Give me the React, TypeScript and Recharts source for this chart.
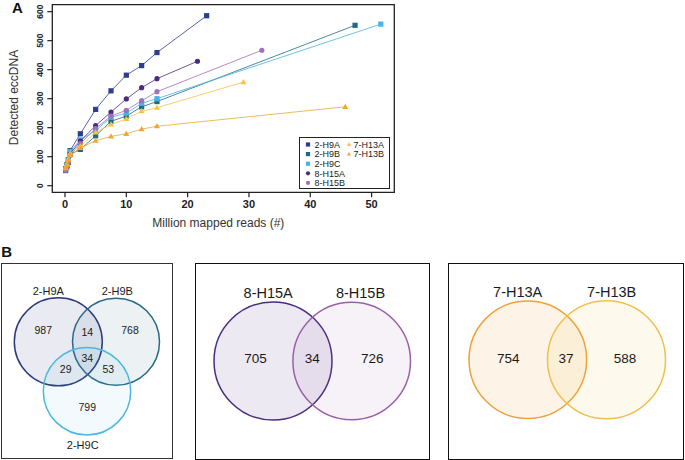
import React from "react";
import { ScatterChart, Scatter, XAxis, YAxis, ReferenceArea, Legend } from "recharts";

const FONT = '"Liberation Sans", Arial, Helvetica, sans-serif';

// ---------- Panel A data ----------
const READS_2H9A = [0.1, 0.3, 0.55, 0.85, 2.5, 5, 7.5, 10, 12.5, 15, 23.1];
const ECC_2H9A = [58, 72, 90, 121, 179, 263, 327, 381, 414, 459, 586];
const READS_2H9B = [0.1, 0.3, 0.55, 0.85, 2.5, 5, 7.5, 10, 12.5, 15, 47.3];
const ECC_2H9B = [52, 65, 80, 108, 125, 172, 222, 240, 272, 290, 553];
const READS_2H9C = [0.1, 0.3, 0.55, 0.85, 2.5, 5, 7.5, 10, 12.5, 15, 51.5];
const ECC_2H9C = [55, 70, 88, 118, 158, 190, 236, 250, 284, 300, 557];
const READS_8H15A = [0.1, 0.3, 0.55, 0.85, 2.5, 5, 7.5, 10, 12.5, 15, 21.6];
const ECC_8H15A = [54, 66, 82, 110, 154, 207, 254, 299, 338, 369, 429];
const READS_8H15B = [0.1, 0.3, 0.55, 0.85, 2.5, 5, 7.5, 10, 12.5, 15, 32.1];
const ECC_8H15B = [53, 65, 80, 105, 145, 197, 240, 260, 293, 324, 467];
const READS_7H13A = [0.1, 0.3, 0.55, 0.85, 2.5, 5, 7.5, 10, 12.5, 15, 29.1];
const ECC_7H13A = [62, 75, 92, 112, 136, 184, 211, 230, 257, 269, 357];
const READS_7H13B = [0.1, 0.3, 0.55, 0.85, 2.5, 5, 7.5, 10, 12.5, 15, 45.7];
const ECC_7H13B = [60, 72, 88, 105, 130, 155, 170, 179, 195, 205, 272];

const SAMPLE_NAMES = ["2-H9A", "2-H9B", "2-H9C", "8-H15A", "8-H15B", "7-H13A", "7-H13B"];
const X_TICKS = [0, 10, 20, 30, 40, 50];
const Y_TICKS = [0, 100, 200, 300, 400, 500, 600];

// ---------- Panel B data ----------
const V1_NAMES = ["2-H9A", "2-H9B", "2-H9C"];
const V1_COUNTS = [987, 14, 768, 34, 29, 53, 799];
const V2_NAMES = ["8-H15A", "8-H15B"];
const V2_COUNTS = [705, 34, 726];
const V3_NAMES = ["7-H13A", "7-H13B"];
const V3_COUNTS = [754, 37, 588];

// ---------- styles / layout ----------
const SERIES_STYLE = [
  { color: "#2b3d8f", shape: "square" },
  { color: "#1f6b87", shape: "square" },
  { color: "#45b5e6", shape: "square" },
  { color: "#4a2c7e", shape: "circle" },
  { color: "#a070b8", shape: "circle" },
  { color: "#f6c343", shape: "triangle" },
  { color: "#eea733", shape: "triangle" },
];

const SERIES_DATA = [
  [READS_2H9A, ECC_2H9A],
  [READS_2H9B, ECC_2H9B],
  [READS_2H9C, ECC_2H9C],
  [READS_8H15A, ECC_8H15A],
  [READS_8H15B, ECC_8H15B],
  [READS_7H13A, ECC_7H13A],
  [READS_7H13B, ECC_7H13B],
].map(([xs, ys]) => xs.map((x, i) => ({ x, y: ys[i] })));

const V1_CIRCLES = [
  { x: 57.3, y: 78.8, r: 44 },
  { x: 115, y: 78.7, r: 43.5 },
  { x: 86, y: 128.2, r: 43.7 },
];
const V1_NAME_POS = [
  { x: 47.3, y: 27.7 },
  { x: 116.3, y: 27.7 },
  { x: 81.7, y: 182 },
];
const V1_COUNT_POS = [
  { x: 42.3, y: 67 },
  { x: 86.3, y: 69.3 },
  { x: 129, y: 67 },
  { x: 86.3, y: 95.3 },
  { x: 64.7, y: 106 },
  { x: 107.3, y: 106 },
  { x: 86.3, y: 144.3 },
];
const V2_CIRCLES = [
  { x: 78, y: 98, r: 59 },
  { x: 156.7, y: 98, r: 58.8 },
];
const V2_NAME_POS = [
  { x: 73.2, y: 30.2 },
  { x: 165.5, y: 30.2 },
];
const V2_COUNT_POS = [
  { x: 60.5, y: 95.8 },
  { x: 117.2, y: 95.8 },
  { x: 177.2, y: 95.8 },
];
const V3_CIRCLES = [
  { x: 79.8, y: 96.7, r: 58.8 },
  { x: 158.5, y: 96.7, r: 59 },
];
const V3_NAME_POS = [
  { x: 69.7, y: 29.2 },
  { x: 163.7, y: 29.2 },
];
const V3_COUNT_POS = [
  { x: 60.3, y: 95.2 },
  { x: 118, y: 95.2 },
  { x: 177, y: 95.2 },
];

function Marker({ kind, cx, cy, color, s }: any) {
  if (kind === "square")
    return <rect x={cx - s / 2} y={cy - s / 2} width={s} height={s} fill={color} />;
  if (kind === "circle") return <circle cx={cx} cy={cy} r={s / 2} fill={color} />;
  const h = s * 0.88;
  return (
    <polygon
      points={`${cx},${cy - h * 0.6} ${cx + s / 2},${cy + h * 0.4} ${cx - s / 2},${cy + h * 0.4}`}
      fill={color}
    />
  );
}

const YTick = (p: any) => {
  const x = p.x - 2;
  const y = p.y;
  return (
    <text
      x={x}
      y={y}
      transform={`rotate(-90, ${x}, ${y})`}
      textAnchor="middle"
      fontSize={8.5}
      fontWeight="bold"
      fill="#222"
      fontFamily={FONT}
    >
      {p.payload.value}
    </text>
  );
};

const LegendBox = (props: any) => {
  const payload = props.payload || [];
  return (
    <div
      style={{
        width: 91,
        height: 52,
        boxSizing: "border-box",
        border: "1.3px solid #222",
        background: "#fff",
      }}
    >
      <svg width={89} height={50} style={{ display: "block" }}>
        {payload.map((entry: any) => {
          const i = SAMPLE_NAMES.indexOf(entry.value);
          const col = i < 5 ? 0 : 1;
          const row = i < 5 ? i : i - 5;
          const mx = col === 0 ? 8 : 49;
          const tx = col === 0 ? 14.5 : 53.5;
          const cy = 6.5 + row * 9.6;
          const st = SERIES_STYLE[i];
          return (
            <g key={entry.value}>
              <Marker kind={st.shape} cx={mx} cy={cy} color={st.color} s={4.2} />
              <text x={tx} y={cy + 3.2} fontSize={9} fill="#222" fontFamily={FONT}>
                {entry.value}
              </text>
            </g>
          );
        })}
      </svg>
    </div>
  );
};

function PanelA() {
  return (
    <ScatterChart width={400} height={235} margin={{ top: 4.7, right: 5.7, bottom: 12.7, left: 12.3 }}>
      <XAxis
        type="number"
        dataKey="x"
        domain={[-2.07, 53.7]}
        ticks={X_TICKS}
        allowDataOverflow
        height={30}
        axisLine={false}
        tickLine={{ stroke: "#222", strokeWidth: 1.2 }}
        tickSize={5}
        tickMargin={3}
        tick={{ fontSize: 11, fontWeight: "bold", fill: "#222", fontFamily: FONT }}
        label={{
          content: (lp: any) => {
            const vb = lp.viewBox || {};
            return (
              <text
                x={vb.x + vb.width / 2 - 5}
                y={vb.y + 34.7}
                textAnchor="middle"
                fontSize={12}
                fill="#333"
                fontFamily={FONT}
              >
                Million mapped reads (#)
              </text>
            );
          },
        }}
      />
      <YAxis
        type="number"
        dataKey="y"
        domain={[-22.8, 624]}
        ticks={Y_TICKS}
        allowDataOverflow
        width={40}
        axisLine={false}
        tickLine={{ stroke: "#222", strokeWidth: 1.2 }}
        tickSize={5}
        tickMargin={2}
        tick={YTick}
        label={{
          content: (lp: any) => {
            const vb = lp.viewBox || {};
            const x = vb.x + 5.2;
            const y = vb.y + vb.height / 2 - 1;
            return (
              <text
                x={x}
                y={y}
                transform={`rotate(-90, ${x}, ${y})`}
                textAnchor="middle"
                fontSize={12}
                fill="#333"
                fontFamily={FONT}
              >
                Detected eccDNA
              </text>
            );
          },
        }}
      />
      <ReferenceArea
        x1={-2.07}
        x2={53.7}
        y1={-22.8}
        y2={624}
        fill="none"
        fillOpacity={0}
        stroke="#222"
        strokeWidth={1.3}
        ifOverflow="visible"
      />
      {SERIES_DATA.map((data, i) => {
        const st = SERIES_STYLE[i];
        return (
          <Scatter
            key={SAMPLE_NAMES[i]}
            name={SAMPLE_NAMES[i]}
            data={data}
            fill={st.color}
            legendType={st.shape as any}
            line={{ stroke: st.color, strokeWidth: 0.8 }}
            isAnimationActive={false}
            shape={(p: any) => (
              <Marker kind={st.shape} cx={p.cx} cy={p.cy} color={st.color} s={st.shape === "triangle" ? 6 : 5.2} />
            )}
          />
        );
      })}
      <Legend
        layout="horizontal"
        verticalAlign="middle"
        align="center"
        content={LegendBox}
        wrapperStyle={{ position: "absolute", left: 299, top: 137, width: 91, height: 52 }}
      />
    </ScatterChart>
  );
}

function Venn({ w, h, circles, names, namePos, counts, countPos, strokes, fills, nameSize, countSize }: any) {
  const circleData = circles.map((c: any, i: number) => ({ x: c.x, y: c.y, r: c.r, i }));
  const nameData = names.map((n: string, i: number) => ({ x: namePos[i].x, y: namePos[i].y, text: n }));
  const countData = counts.map((v: number, i: number) => ({ x: countPos[i].x, y: countPos[i].y, text: String(v) }));
  const textShape = (size: number) => (p: any) => (
    <text
      x={p.cx}
      y={p.cy}
      textAnchor="middle"
      dominantBaseline="central"
      fontSize={size}
      fill="#1a1a1a"
      fontFamily={FONT}
    >
      {p.payload.text}
    </text>
  );
  return (
    <ScatterChart width={w} height={h} margin={{ top: 0, right: 0, bottom: 0, left: 0 }}>
      <XAxis type="number" dataKey="x" domain={[0, w]} hide allowDataOverflow />
      <YAxis type="number" dataKey="y" domain={[0, h]} reversed hide allowDataOverflow />
      <Scatter
        data={circleData}
        isAnimationActive={false}
        shape={(p: any) => (
          <circle
            cx={p.cx}
            cy={p.cy}
            r={p.payload.r}
            fill={fills[p.payload.i]}
            stroke={strokes[p.payload.i]}
            strokeWidth={1.5}
          />
        )}
      />
      <Scatter data={nameData} isAnimationActive={false} shape={textShape(nameSize)} />
      <Scatter data={countData} isAnimationActive={false} shape={textShape(countSize)} />
    </ScatterChart>
  );
}

function Box({ left, top, width, height, border, children }: any) {
  return (
    <div style={{ position: "absolute", left, top, width, height }}>
      <div
        style={{
          position: "absolute",
          left: 0,
          top: 0,
          width,
          height,
          boxSizing: "border-box",
          border,
        }}
      />
      <div style={{ position: "absolute", left: 0, top: 0 }}>{children}</div>
    </div>
  );
}

export default function App() {
  return (
    <div
      style={{
        position: "absolute",
        left: 0,
        top: 0,
        width: 685,
        height: 460,
        background: "#fff",
        overflow: "hidden",
        fontFamily: FONT,
      }}
    >
      <div style={{ position: "absolute", left: 0, top: 0 }}>
        <PanelA />
      </div>

      <Box left={1} top={263} width={172} height={196} border="1.2px solid #333">
        <Venn
          w={172}
          h={196}
          circles={V1_CIRCLES}
          names={V1_NAMES}
          namePos={V1_NAME_POS}
          counts={V1_COUNTS}
          countPos={V1_COUNT_POS}
          strokes={["#2d3a7c", "#2a6a87", "#4cb6e0"]}
          fills={["rgba(45,58,124,0.10)", "rgba(42,106,135,0.09)", "rgba(76,182,224,0.07)"]}
          nameSize={11}
          countSize={10.5}
        />
      </Box>

      <Box left={194.5} top={262.5} width={235} height={197} border="1.8px solid #111">
        <Venn
          w={235}
          h={197}
          circles={V2_CIRCLES}
          names={V2_NAMES}
          namePos={V2_NAME_POS}
          counts={V2_COUNTS}
          countPos={V2_COUNT_POS}
          strokes={["#4a2c7e", "#9b5fa8"]}
          fills={["rgba(74,44,126,0.10)", "rgba(155,95,168,0.08)"]}
          nameSize={14.5}
          countSize={13.5}
        />
      </Box>

      <Box left={448} top={262.5} width={235.5} height={197} border="1.8px solid #111">
        <Venn
          w={235.5}
          h={197}
          circles={V3_CIRCLES}
          names={V3_NAMES}
          namePos={V3_NAME_POS}
          counts={V3_COUNTS}
          countPos={V3_COUNT_POS}
          strokes={["#eea23a", "#f2c04a"]}
          fills={["rgba(238,162,58,0.12)", "rgba(243,196,76,0.10)"]}
          nameSize={14.5}
          countSize={13.5}
        />
      </Box>

      <svg
        width={685}
        height={460}
        style={{ position: "absolute", left: 0, top: 0, pointerEvents: "none" }}
      >
        <text x={17.5} y={12.7} textAnchor="middle" fontSize={15} fontWeight="bold" fill="#111" fontFamily={FONT}>
          A
        </text>
        <text x={6.7} y={256.7} textAnchor="middle" fontSize={15} fontWeight="bold" fill="#111" fontFamily={FONT}>
          B
        </text>
      </svg>
    </div>
  );
}
